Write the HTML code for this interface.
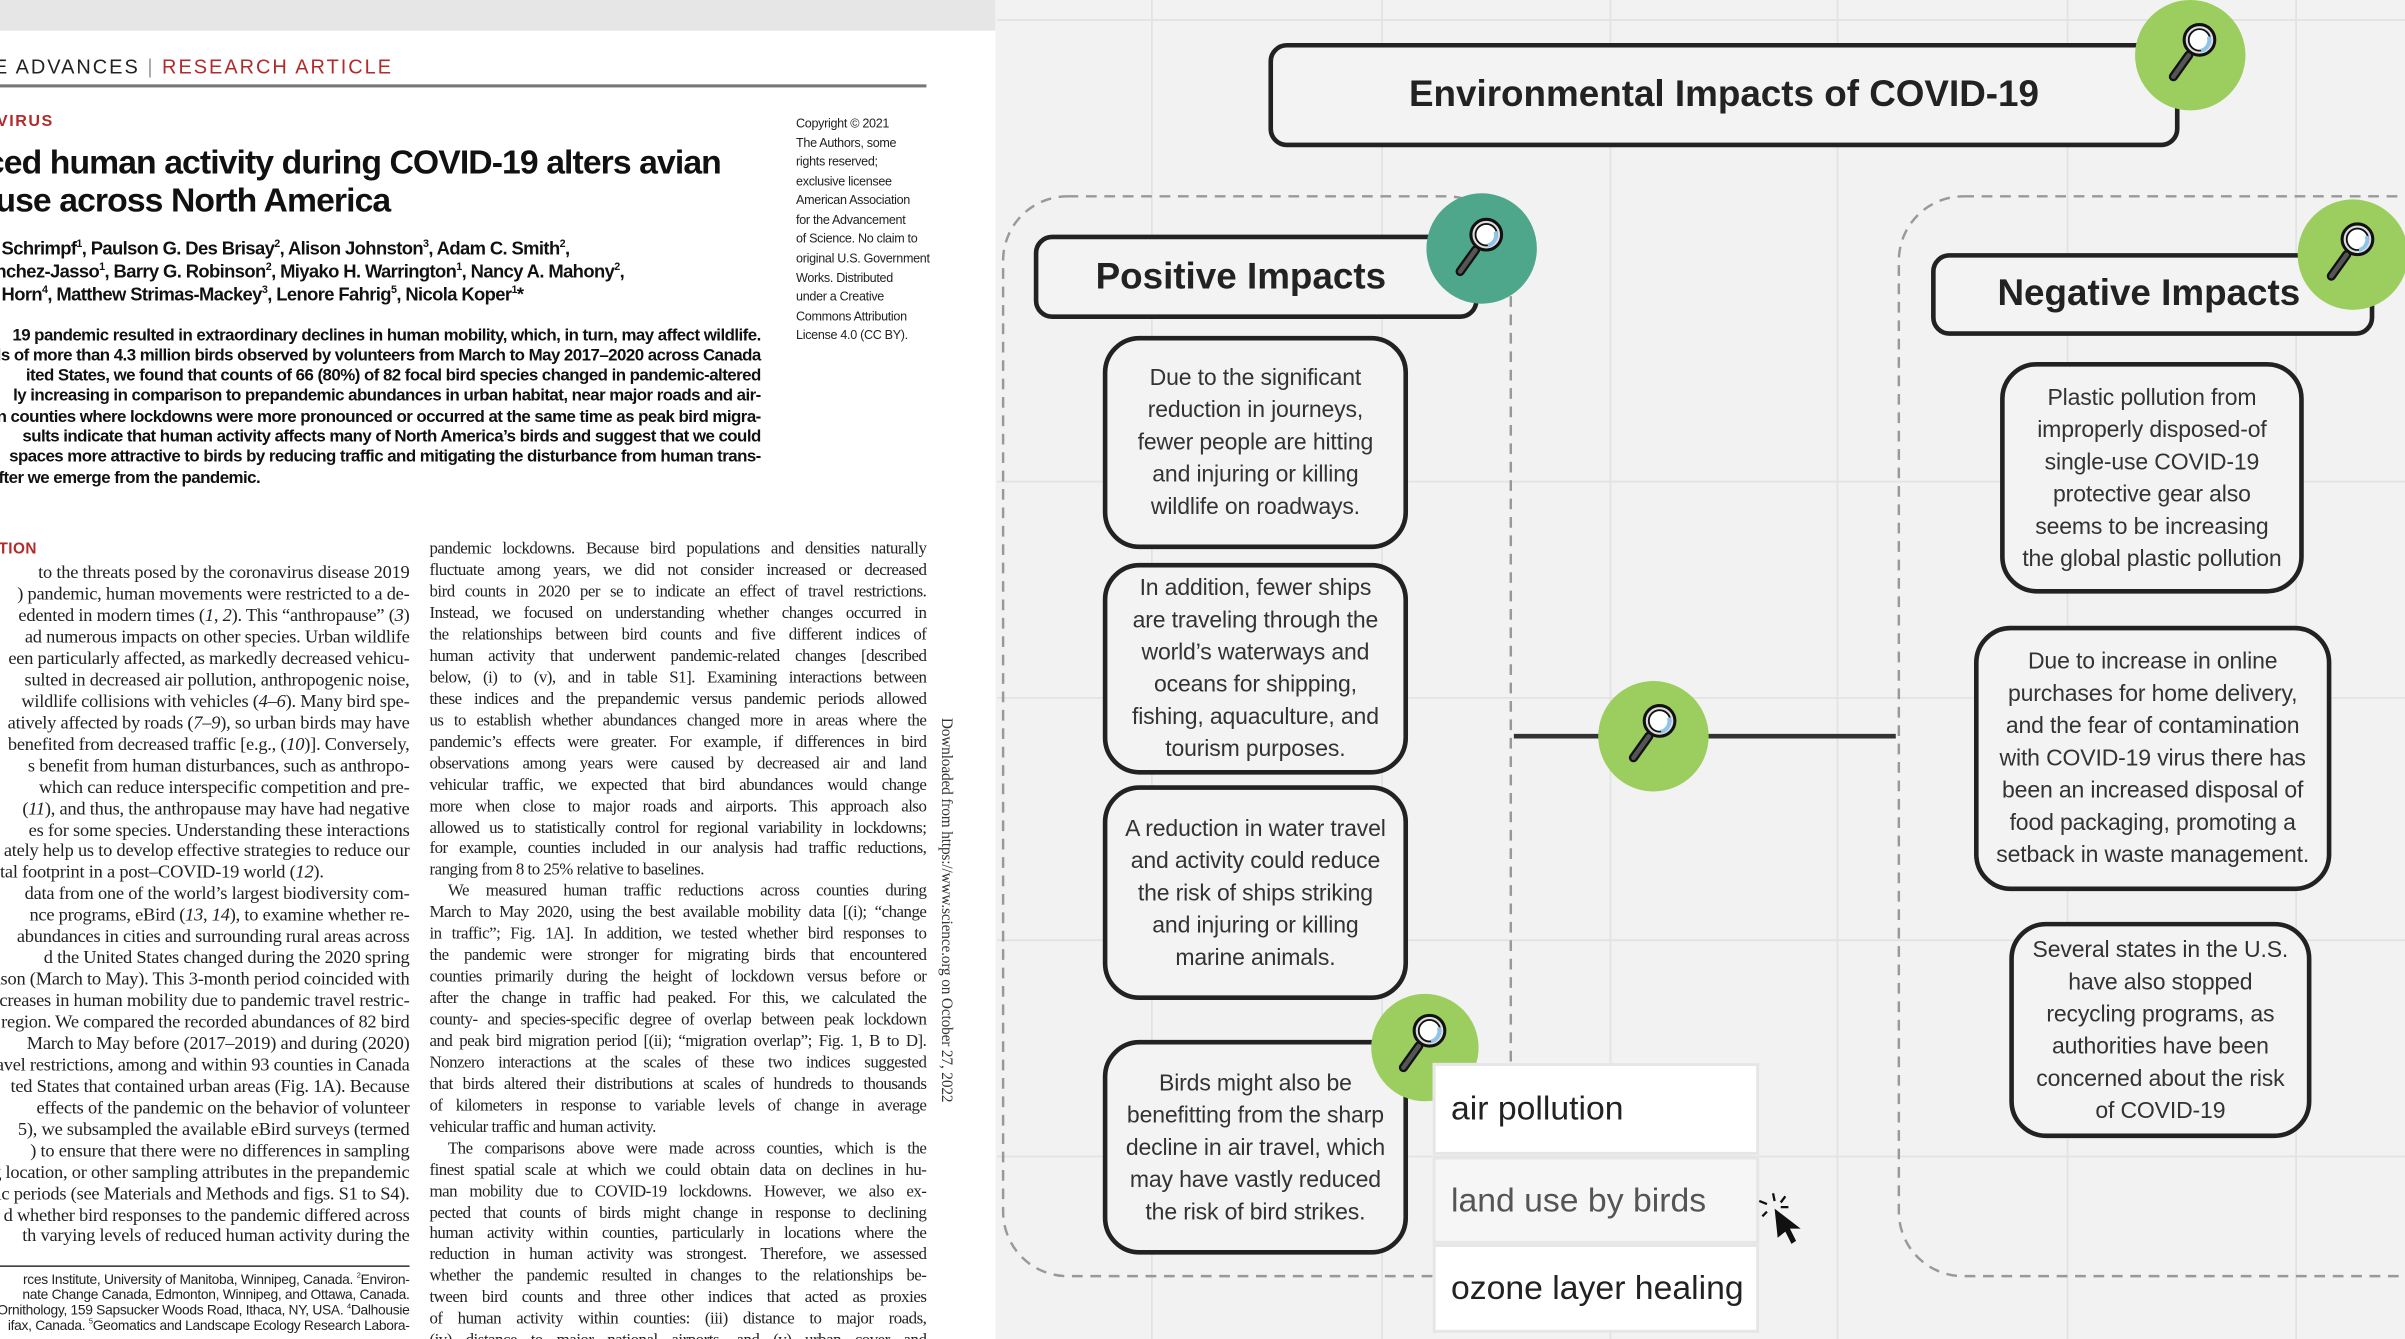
<!DOCTYPE html>
<html><head><meta charset="utf-8">
<style>
html,body{margin:0;padding:0;width:2405px;height:1339px;overflow:hidden;background:#f2f2f2}
#s{position:absolute;left:0;top:0;width:1568px;height:873px;transform:scale(1.5338);transform-origin:0 0;overflow:hidden;font-family:"Liberation Sans",sans-serif}
.a{position:absolute;white-space:nowrap}
#page{position:absolute;left:0;top:0;width:649px;height:873px;background:#fff;overflow:hidden}
.ser{font-family:"Liberation Serif",serif;font-size:11px;color:#222;letter-spacing:-0.32px}
.L{position:absolute;right:382px;white-space:nowrap;text-align:right}
.ser .L,.ser .a{font-size:12px;letter-spacing:-0.15px}
.R{position:absolute;left:280px;width:324px;white-space:nowrap;text-align:justify;text-align-last:justify}
.ab{position:absolute;right:153px;white-space:nowrap;font-weight:bold;font-size:11px;letter-spacing:-0.35px;color:#111}
.cp{position:absolute;left:519px;font-size:8.2px;color:#222;letter-spacing:-0.2px;white-space:nowrap}
.box{position:absolute;border:3px solid #222;border-radius:12px;background:#f3f3f3;box-sizing:border-box;display:flex;align-items:center;justify-content:center;font-weight:bold;color:#222}
.card{position:absolute;border:3px solid #222;border-radius:24px;background:#f3f3f3;box-sizing:border-box;display:flex;align-items:center;justify-content:center;text-align:center;font-size:15px;line-height:21px;color:#333;letter-spacing:-0.1px}
.dd{position:absolute;background:#fff;border:2px solid #e6e6e6;box-sizing:border-box;font-size:22px;color:#222;display:flex;align-items:center;padding-left:10px}
</style></head><body>
<div id="s">
<svg class="a" style="left:0;top:0" width="1568" height="873">
<g stroke="#e3e3e3" stroke-width="1.2">
<line x1="751" y1="0" x2="751" y2="873"/><line x1="901" y1="0" x2="901" y2="873"/><line x1="1050" y1="0" x2="1050" y2="873"/><line x1="1198" y1="0" x2="1198" y2="873"/><line x1="1348" y1="0" x2="1348" y2="873"/><line x1="1497" y1="0" x2="1497" y2="873"/>
<line x1="650" y1="13" x2="1568" y2="13"/><line x1="650" y1="314" x2="1568" y2="314"/><line x1="650" y1="455" x2="1568" y2="455"/><line x1="650" y1="613" x2="1568" y2="613"/><line x1="650" y1="754" x2="1568" y2="754"/>
</g>
<g fill="none" stroke="#999" stroke-width="1.6" stroke-dasharray="7 5">
<rect x="654" y="128" width="331" height="704" rx="42"/>
<rect x="1238" y="128" width="420" height="704" rx="42"/>
</g>
<line x1="987" y1="480" x2="1236" y2="480" stroke="#333" stroke-width="3"/>
</svg>

<div id="page">
<div class="a" style="left:0;top:0;width:649px;height:20px;background:#e6e6e6"></div>
<div class="a" style="left:-4px;top:36px;font-size:13px;letter-spacing:1.3px;color:#222">E ADVANCES <span style="color:#999">|</span> <span style="color:#b22a2a">RESEARCH ARTICLE</span></div>
<div class="a" style="left:0;top:55px;width:604px;height:1.5px;background:#777"></div>
<div class="a" style="left:-2px;top:73px;font-size:10.5px;font-weight:bold;letter-spacing:1px;color:#b22a2a">VIRUS</div>
<div class="a" style="right:179px;top:93px;font-size:22px;font-weight:bold;letter-spacing:-0.6px;color:#111">ced human activity during COVID-19 alters avian</div>
<div class="a" style="left:-3px;top:118px;font-size:22px;font-weight:bold;letter-spacing:-0.6px;color:#111">use across North America</div>
<div class="a" style="left:1px;top:155px;font-size:12px;font-weight:bold;letter-spacing:-0.4px;color:#111">Schrimpf<sup style="font-size:7px">1</sup>, Paulson G. Des Brisay<sup style="font-size:7px">2</sup>, Alison Johnston<sup style="font-size:7px">3</sup>, Adam C. Smith<sup style="font-size:7px">2</sup>,</div>
<div class="a" style="left:-3px;top:170px;font-size:12px;font-weight:bold;letter-spacing:-0.4px;color:#111">nchez-Jasso<sup style="font-size:7px">1</sup>, Barry G. Robinson<sup style="font-size:7px">2</sup>, Miyako H. Warrington<sup style="font-size:7px">1</sup>, Nancy A. Mahony<sup style="font-size:7px">2</sup>,</div>
<div class="a" style="left:1px;top:185px;font-size:12px;font-weight:bold;letter-spacing:-0.4px;color:#111">Horn<sup style="font-size:7px">4</sup>, Matthew Strimas-Mackey<sup style="font-size:7px">3</sup>, Lenore Fahrig<sup style="font-size:7px">5</sup>, Nicola Koper<sup style="font-size:7px">1</sup>*</div>
<div class="ab" style="top:213px">19 pandemic resulted in extraordinary declines in human mobility, which, in turn, may affect wildlife.</div>
<div class="ab" style="top:226px">ds of more than 4.3 million birds observed by volunteers from March to May 2017–2020 across Canada</div>
<div class="ab" style="top:239px">ited States, we found that counts of 66 (80%) of 82 focal bird species changed in pandemic-altered</div>
<div class="ab" style="top:252px">ly increasing in comparison to prepandemic abundances in urban habitat, near major roads and air-</div>
<div class="ab" style="top:266px">n counties where lockdowns were more pronounced or occurred at the same time as peak bird migra-</div>
<div class="ab" style="top:279px">sults indicate that human activity affects many of North America’s birds and suggest that we could</div>
<div class="ab" style="top:292px">spaces more attractive to birds by reducing traffic and mitigating the disturbance from human trans-</div>
<div class="a" style="left:-1px;top:306px;font-weight:bold;font-size:11px;letter-spacing:-0.35px;color:#111">fter we emerge from the pandemic.</div>
<div class="cp" style="top:76px">Copyright © 2021</div>
<div class="cp" style="top:89px">The Authors, some</div>
<div class="cp" style="top:101px">rights reserved;</div>
<div class="cp" style="top:114px">exclusive licensee</div>
<div class="cp" style="top:126px">American Association</div>
<div class="cp" style="top:139px">for the Advancement</div>
<div class="cp" style="top:151px">of Science. No claim to</div>
<div class="cp" style="top:164px">original U.S. Government</div>
<div class="cp" style="top:177px">Works. Distributed</div>
<div class="cp" style="top:189px">under a Creative</div>
<div class="cp" style="top:202px">Commons Attribution</div>
<div class="cp" style="top:214px">License 4.0 (CC BY).</div>
<div class="a" style="left:-1px;top:353px;font-size:10px;font-weight:bold;color:#b22a2a;letter-spacing:0.3px">TION</div>
<div class="ser">
<div class="L" style="top:366px">to the threats posed by the coronavirus disease 2019</div>
<div class="L" style="top:380px">) pandemic, human movements were restricted to a de-</div>
<div class="L" style="top:394px">edented in modern times (<i>1</i>, <i>2</i>). This “anthropause” (<i>3</i>)</div>
<div class="L" style="top:408px">ad numerous impacts on other species. Urban wildlife</div>
<div class="L" style="top:422px">een particularly affected, as markedly decreased vehicu-</div>
<div class="L" style="top:436px">sulted in decreased air pollution, anthropogenic noise,</div>
<div class="L" style="top:450px">wildlife collisions with vehicles (<i>4</i>–<i>6</i>). Many bird spe-</div>
<div class="L" style="top:464px">atively affected by roads (<i>7</i>–<i>9</i>), so urban birds may have</div>
<div class="L" style="top:478px">benefited from decreased traffic [e.g., (<i>10</i>)]. Conversely,</div>
<div class="L" style="top:492px">s benefit from human disturbances, such as anthropo-</div>
<div class="L" style="top:506px">which can reduce interspecific competition and pre-</div>
<div class="L" style="top:520px">(<i>11</i>), and thus, the anthropause may have had negative</div>
<div class="L" style="top:534px">es for some species. Understanding these interactions</div>
<div class="L" style="top:547px">ately help us to develop effective strategies to reduce our</div>
<div class="a" style="left:0;top:561px">tal footprint in a post–COVID-19 world (<i>12</i>).</div>
<div class="L" style="top:575px">data from one of the world’s largest biodiversity com-</div>
<div class="L" style="top:589px">nce programs, eBird (<i>13</i>, <i>14</i>), to examine whether re-</div>
<div class="L" style="top:603px">abundances in cities and surrounding rural areas across</div>
<div class="L" style="top:617px">d the United States changed during the 2020 spring</div>
<div class="L" style="top:631px">ason (March to May). This 3-month period coincided with</div>
<div class="L" style="top:645px">ecreases in human mobility due to pandemic travel restric-</div>
<div class="L" style="top:659px">region. We compared the recorded abundances of 82 bird</div>
<div class="L" style="top:673px">March to May before (2017–2019) and during (2020)</div>
<div class="L" style="top:687px">avel restrictions, among and within 93 counties in Canada</div>
<div class="L" style="top:701px">ted States that contained urban areas (Fig. 1A). Because</div>
<div class="L" style="top:715px">effects of the pandemic on the behavior of volunteer</div>
<div class="L" style="top:729px">5), we subsampled the available eBird surveys (termed</div>
<div class="L" style="top:743px">) to ensure that there were no differences in sampling</div>
<div class="L" style="top:757px">ng location, or other sampling attributes in the prepandemic</div>
<div class="L" style="top:771px">ic periods (see Materials and Methods and figs. S1 to S4).</div>
<div class="L" style="top:785px">d whether bird responses to the pandemic differed across</div>
<div class="L" style="top:798px">th varying levels of reduced human activity during the</div>

<div class="R" style="top:352px">pandemic lockdowns. Because bird populations and densities naturally</div>
<div class="R" style="top:366px">fluctuate among years, we did not consider increased or decreased</div>
<div class="R" style="top:380px">bird counts in 2020 per se to indicate an effect of travel restrictions.</div>
<div class="R" style="top:394px">Instead, we focused on understanding whether changes occurred in</div>
<div class="R" style="top:408px">the relationships between bird counts and five different indices of</div>
<div class="R" style="top:422px">human activity that underwent pandemic-related changes [described</div>
<div class="R" style="top:436px">below, (i) to (v), and in table S1]. Examining interactions between</div>
<div class="R" style="top:450px">these indices and the prepandemic versus pandemic periods allowed</div>
<div class="R" style="top:464px">us to establish whether abundances changed more in areas where the</div>
<div class="R" style="top:478px">pandemic’s effects were greater. For example, if differences in bird</div>
<div class="R" style="top:492px">observations among years were caused by decreased air and land</div>
<div class="R" style="top:506px">vehicular traffic, we expected that bird abundances would change</div>
<div class="R" style="top:520px">more when close to major roads and airports. This approach also</div>
<div class="R" style="top:534px">allowed us to statistically control for regional variability in lockdowns;</div>
<div class="R" style="top:547px">for example, counties included in our analysis had traffic reductions,</div>
<div class="R" style="top:561px;text-align-last:left">ranging from 8 to 25% relative to baselines.</div>
<div class="R" style="top:575px;text-indent:12px">We measured human traffic reductions across counties during</div>
<div class="R" style="top:589px">March to May 2020, using the best available mobility data [(i); “change</div>
<div class="R" style="top:603px">in traffic”; Fig. 1A]. In addition, we tested whether bird responses to</div>
<div class="R" style="top:617px">the pandemic were stronger for migrating birds that encountered</div>
<div class="R" style="top:631px">counties primarily during the height of lockdown versus before or</div>
<div class="R" style="top:645px">after the change in traffic had peaked. For this, we calculated the</div>
<div class="R" style="top:659px">county- and species-specific degree of overlap between peak lockdown</div>
<div class="R" style="top:673px">and peak bird migration period [(ii); “migration overlap”; Fig. 1, B to D].</div>
<div class="R" style="top:687px">Nonzero interactions at the scales of these two indices suggested</div>
<div class="R" style="top:701px">that birds altered their distributions at scales of hundreds to thousands</div>
<div class="R" style="top:715px">of kilometers in response to variable levels of change in average</div>
<div class="R" style="top:729px;text-align-last:left">vehicular traffic and human activity.</div>
<div class="R" style="top:743px;text-indent:12px">The comparisons above were made across counties, which is the</div>
<div class="R" style="top:757px">finest spatial scale at which we could obtain data on declines in hu-</div>
<div class="R" style="top:771px">man mobility due to COVID-19 lockdowns. However, we also ex-</div>
<div class="R" style="top:785px">pected that counts of birds might change in response to declining</div>
<div class="R" style="top:798px">human activity within counties, particularly in locations where the</div>
<div class="R" style="top:812px">reduction in human activity was strongest. Therefore, we assessed</div>
<div class="R" style="top:826px">whether the pandemic resulted in changes to the relationships be-</div>
<div class="R" style="top:840px">tween bird counts and three other indices that acted as proxies</div>
<div class="R" style="top:854px">of human activity within counties: (iii) distance to major roads,</div>
<div class="R" style="top:868px">(iv) distance to major national airports, and (v) urban cover and</div>
</div>
<div class="a" style="left:0;top:825px;width:267px;height:1px;background:#333"></div>
<div class="L" style="top:829px;font-size:9px;letter-spacing:-0.2px;color:#222">rces Institute, University of Manitoba, Winnipeg, Canada. <sup style="font-size:5px">2</sup>Environ-</div>
<div class="L" style="top:839px;font-size:9px;letter-spacing:-0.2px;color:#222">nate Change Canada, Edmonton, Winnipeg, and Ottawa, Canada.</div>
<div class="L" style="top:849px;font-size:9px;letter-spacing:-0.2px;color:#222">Ornithology, 159 Sapsucker Woods Road, Ithaca, NY, USA. <sup style="font-size:5px">4</sup>Dalhousie</div>
<div class="L" style="top:859px;font-size:9px;letter-spacing:-0.2px;color:#222">ifax, Canada. <sup style="font-size:5px">5</sup>Geomatics and Landscape Ecology Research Labora-</div>
<div class="a" style="left:611px;top:468px;writing-mode:vertical-rl;font-family:'Liberation Serif',serif;font-size:10px;color:#333;letter-spacing:-0.1px">Downloaded from https://www.science.org on October 27, 2022</div>
</div>

<div class="box" style="left:827px;top:28px;width:594px;height:68px;font-size:24px">Environmental Impacts of COVID-19</div>
<div class="box" style="left:674px;top:153px;width:290px;height:55px;font-size:24px;padding-right:20px">Positive Impacts</div>
<div class="box" style="left:1259px;top:165px;width:289px;height:54px;font-size:24px;padding-right:5px">Negative Impacts</div>

<div class="card" style="left:719px;top:219px;width:199px;height:139px">Due to the significant<br>reduction in journeys,<br>fewer people are hitting<br>and injuring or killing<br>wildlife on roadways.</div>
<div class="card" style="left:719px;top:367px;width:199px;height:138px">In addition, fewer ships<br>are traveling through the<br>world’s waterways and<br>oceans for shipping,<br>fishing, aquaculture, and<br>tourism purposes.</div>
<div class="card" style="left:719px;top:512px;width:199px;height:140px">A reduction in water travel<br>and activity could reduce<br>the risk of ships striking<br>and injuring or killing<br>marine animals.</div>
<div class="card" style="left:719px;top:678px;width:199px;height:140px">Birds might also be<br>benefitting from the sharp<br>decline in air travel, which<br>may have vastly reduced<br>the risk of bird strikes.</div>
<div class="card" style="left:1304px;top:236px;width:198px;height:151px">Plastic pollution from<br>improperly disposed-of<br>single-use COVID-19<br>protective gear also<br>seems to be increasing<br>the global plastic pollution</div>
<div class="card" style="left:1287px;top:408px;width:233px;height:173px">Due to increase in online<br>purchases for home delivery,<br>and the fear of contamination<br>with COVID-19 virus there has<br>been an increased disposal of<br>food packaging, promoting a<br>setback in waste management.</div>
<div class="card" style="left:1310px;top:601px;width:197px;height:141px">Several states in the U.S.<br>have also stopped<br>recycling programs, as<br>authorities have been<br>concerned about the risk<br>of COVID-19</div>

<svg class="a" style="left:0;top:0" width="1568" height="873">
<defs>
<g id="mg">
<line x1="-4" y1="6" x2="-14" y2="20" stroke="#111" stroke-width="6" stroke-linecap="round"/>
<line x1="-4" y1="6" x2="-14" y2="20" stroke="#555" stroke-width="3" stroke-linecap="round"/>
<circle cx="3" cy="-4" r="10" fill="#ddd" stroke="#111" stroke-width="2"/>
<circle cx="3" cy="-4" r="7" fill="#fff" stroke="#111" stroke-width="1.2"/>
<path d="M9 -6 A7 7 0 0 1 4 3" stroke="#8cc4ea" stroke-width="2.5" fill="none"/>
</g>
</defs>
<circle cx="1428" cy="36" r="36" fill="#9ccd5f"/><use href="#mg" x="1431" y="30"/>
<circle cx="966" cy="162" r="36" fill="#4ea68b"/><use href="#mg" x="966" y="157"/>
<circle cx="1534" cy="166" r="36" fill="#9ccd5f"/><use href="#mg" x="1534" y="160"/>
<circle cx="1078" cy="480" r="36" fill="#9ccd5f"/><use href="#mg" x="1079" y="474"/>
<circle cx="929" cy="683" r="35" fill="#9ccd5f"/><use href="#mg" x="929" y="676"/>
</svg>

<div class="dd" style="left:934px;top:693px;width:213px;height:60px">air pollution</div>
<div class="dd" style="left:934px;top:754px;width:213px;height:57px;background:#f6f6f6;color:#555">land use by birds</div>
<div class="dd" style="left:934px;top:811px;width:213px;height:58px">ozone layer healing</div>
<svg class="a" style="left:1140px;top:772px" width="40" height="45">
<g stroke="#111" stroke-width="1.5"><line x1="16" y1="6" x2="17" y2="11"/><line x1="7" y1="11" x2="12" y2="13"/><line x1="24" y1="8" x2="21" y2="12"/><line x1="26" y1="15" x2="21" y2="15"/><line x1="9" y1="21" x2="12" y2="18"/></g>
<polygon points="17,16 34,29 27,29 31,37 28,39 24,31 19,35" fill="#111"/>
</svg>
</div>
</body></html>
